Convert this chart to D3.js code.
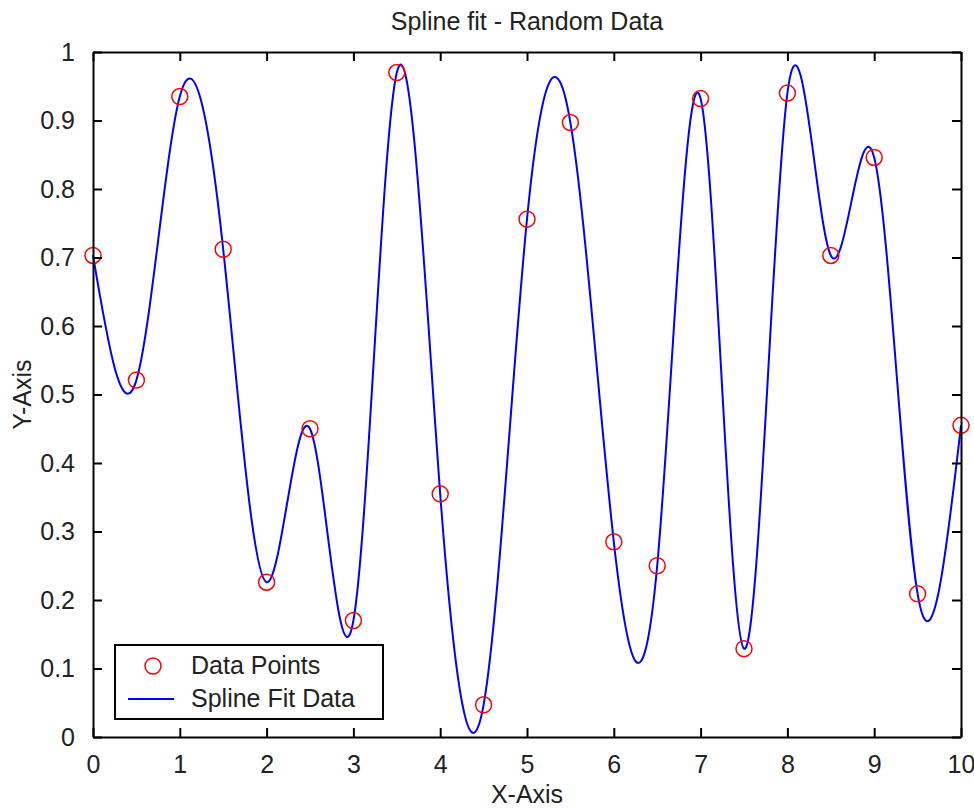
<!DOCTYPE html>
<html>
<head>
<meta charset="utf-8">
<script src="https://cdn.jsdelivr.net/npm/d3@7"></script>
<style>
  body { margin: 0; background: #fff; }
  text { font-family: "Liberation Sans", Arial, sans-serif; fill: #222; }
</style>
</head>
<body>
<div id="chart-area"></div>
<script>
// chart values
const xValues = [0, 0.5, 1, 1.5, 2, 2.5, 3, 3.5, 4, 4.5, 5, 5.5, 6, 6.5, 7, 7.5, 8, 8.5, 9, 9.5, 10]
const yValues = [0.703, 0.521, 0.935, 0.712, 0.226, 0.450, 0.170, 0.970, 0.355, 0.047, 0.756,
  0.897, 0.285, 0.250, 0.932, 0.129, 0.940, 0.703, 0.846, 0.209, 0.455]
const xTicks = [0, 1, 2, 3, 4, 5, 6, 7, 8, 9, 10]
const yTicks = [0, 0.1, 0.2, 0.3, 0.4, 0.5, 0.6, 0.7, 0.8, 0.9, 1]
const legendLabels = ["Data Points", "Spline Fit Data"]

const W = 974, H = 809
const MARGIN = { LEFT: 93, RIGHT: 13, TOP: 52, BOTTOM: 72 }
const WIDTH = W - MARGIN.LEFT - MARGIN.RIGHT
const HEIGHT = H - MARGIN.TOP - MARGIN.BOTTOM
const FONT = "25px"

const points = xValues.map((x, i) => ({ x: x, y: yValues[i] }))

const svg = d3.select("#chart-area")
  .append("svg")
  .attr("width", W)
  .attr("height", H)

const g = svg.append("g")
  .attr("transform", `translate(${MARGIN.LEFT}, ${MARGIN.TOP})`)

const x = d3.scaleLinear().domain([0, 10]).range([0, WIDTH])
const y = d3.scaleLinear().domain([0, 1]).range([HEIGHT, 0])

// spline curve
const line = d3.line()
  .x(d => x(d.x))
  .y(d => y(d.y))
  .curve(d3.curveNatural)

g.append("path")
  .datum(points)
  .attr("d", line)
  .attr("fill", "none")
  .attr("stroke", "#0000ff")
  .attr("stroke-width", 2)

g.selectAll("circle.pt")
  .data(points)
  .enter()
  .append("circle")
  .attr("class", "pt")
  .attr("cx", d => x(d.x))
  .attr("cy", d => y(d.y))
  .attr("r", 8)
  .attr("fill", "none")
  .attr("stroke", "#ff0000")
  .attr("stroke-width", 1.5)

// axes (ticks inside, mirrored on top / right like matlab)
const tickLen = 9
const fmt = d => d3.format("")(d)

g.append("g")
  .attr("transform", `translate(0, ${HEIGHT})`)
  .call(d3.axisBottom(x).tickValues(xTicks).tickSizeInner(-tickLen).tickSizeOuter(0).tickPadding(tickLen + 9).tickFormat(fmt))
g.append("g")
  .call(d3.axisTop(x).tickValues(xTicks).tickSizeInner(-tickLen).tickSizeOuter(0).tickFormat(""))
g.append("g")
  .call(d3.axisLeft(y).tickValues(yTicks).tickSizeInner(-tickLen).tickSizeOuter(0).tickPadding(tickLen + 9).tickFormat(fmt))
g.append("g")
  .attr("transform", `translate(${WIDTH}, 0)`)
  .call(d3.axisRight(y).tickValues(yTicks).tickSizeInner(-tickLen).tickSizeOuter(0).tickFormat(""))

g.selectAll(".domain").attr("stroke", "#000").attr("stroke-width", 2)
g.selectAll(".tick line").attr("stroke", "#000").attr("stroke-width", 2)
g.selectAll(".tick text")
  .style("font-family", "'Liberation Sans', Arial, sans-serif")
  .style("font-size", FONT)
  .attr("fill", "#222")

// titles
svg.append("text")
  .attr("x", MARGIN.LEFT + WIDTH / 2)
  .attr("y", 30)
  .style("text-anchor", "middle")
  .style("font-size", FONT)
  .text("Spline fit - Random Data")

svg.append("text")
  .attr("x", MARGIN.LEFT + WIDTH / 2)
  .attr("y", 803)
  .style("text-anchor", "middle")
  .style("font-size", FONT)
  .text("X-Axis")

svg.append("text")
  .attr("transform", `translate(31, ${MARGIN.TOP + HEIGHT / 2}) rotate(-90)`)
  .style("text-anchor", "middle")
  .style("font-size", FONT)
  .text("Y-Axis")

// legend
const legend = svg.append("g").attr("transform", "translate(115, 645)")
legend.append("rect")
  .attr("width", 268)
  .attr("height", 74)
  .attr("fill", "#fff")
  .attr("stroke", "#000")
  .attr("stroke-width", 2)

legend.append("circle")
  .attr("cx", 38).attr("cy", 21).attr("r", 8)
  .attr("fill", "none").attr("stroke", "#ff0000").attr("stroke-width", 1.5)
legend.append("line")
  .attr("x1", 13).attr("x2", 59).attr("y1", 54).attr("y2", 54)
  .attr("stroke", "#0000ff").attr("stroke-width", 2)

legend.selectAll("text.lbl")
  .data(legendLabels)
  .enter()
  .append("text")
  .attr("class", "lbl")
  .attr("x", 76)
  .attr("y", (d, i) => 29 + i * 33)
  .style("font-size", FONT)
  .text(d => d)
</script>
</body>
</html>
